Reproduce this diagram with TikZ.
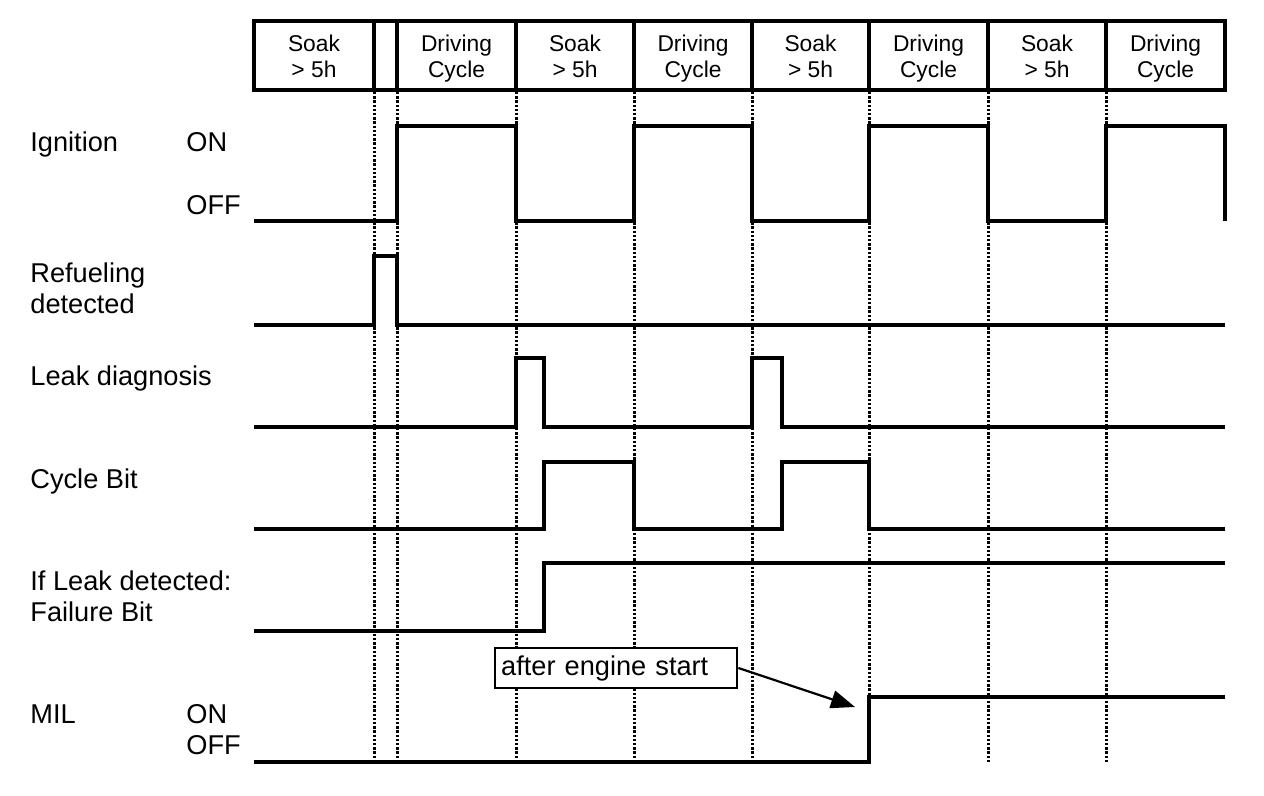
\documentclass[tikz,border=0pt]{standalone}
\usepackage{fontspec}
\setmainfont{Liberation Sans}
\usepackage{tikz}
\usetikzlibrary{arrows.meta, positioning}

\begin{document}
\begin{tikzpicture}[
  x=0.5pt, y=-0.5pt,
  hdr/.style={font=\fontsize{11.4}{13}\selectfont, align=center, inner sep=0pt, anchor=north},
  lbl/.style={font=\fontsize{13.6}{15.5}\selectfont, anchor=base west, inner sep=0pt},
  sig/.style={line width=1.6pt, line join=miter},
  grid/.style={line width=1.5pt, dash pattern=on 1.2pt off 0.9pt},
  box/.style={draw, line width=1.6pt},
  note/.style={draw, line width=1.2pt, font=\fontsize{13.6}{15.5}\selectfont, inner xsep=3pt, text width=115pt, align=left, minimum height=20pt},
  arr/.style={-{Triangle[length=12pt, width=9pt]}, line width=1.1pt},
]
\useasboundingbox (0,0) rectangle (1264,796);

%% Phase header
\draw[box] (254,21) rectangle (1225,90);
\foreach \x in {374,397,516,634,752,869,988,1106} {
  \draw[box] (\x,21) -- (\x,90);
}
\node[hdr] (h1) at (314,35)    {Soak\\> 5h};
\node[hdr] (h2) at (456.5,35)  {Driving\\Cycle};
\node[hdr] (h3) at (575,35)    {Soak\\> 5h};
\node[hdr] (h4) at (693,35)    {Driving\\Cycle};
\node[hdr] (h5) at (810.5,35)  {Soak\\> 5h};
\node[hdr] (h6) at (928.5,35)  {Driving\\Cycle};
\node[hdr] (h7) at (1047,35)   {Soak\\> 5h};
\node[hdr] (h8) at (1165.5,35) {Driving\\Cycle};

%% Phase boundaries
\foreach \x in {374,397,516,634,752,869,988,1106} {
  \draw[grid] (\x,92) -- (\x,762);
}

%% Signal names
\node[lbl] (ign)    at (30,152)  {Ignition};
\node[lbl] (ignon)  at (186,152) {ON};
\node[lbl] (ignoff) at (186,215) {OFF};
\node[lbl] (refuel) at (30,283)  {Refueling};
\node[lbl] (refuel2) at (30,314) {detected};
\node[lbl] (leak)   at (30,386)  {Leak diagnosis};
\node[lbl] (cycle)  at (30,488)  {Cycle Bit};
\node[lbl] (fail)   at (30,590)  {If Leak detected:};
\node[lbl] (fail2)  at (30,621)  {Failure Bit};
\node[lbl] (mil)    at (30,723)  {MIL};
\node[lbl] (milon)  at (186,723) {ON};
\node[lbl] (miloff) at (186,754) {OFF};

%% Waveforms
\draw[sig] (254,221) -- (397,221) -- (397,126) -- (516,126) -- (516,221) -- (634,221)
  -- (634,126) -- (752,126) -- (752,221) -- (869,221) -- (869,126) -- (988,126)
  -- (988,221) -- (1106,221) -- (1106,126) -- (1225,126) -- (1225,221);
\draw[sig] (254,325) -- (374,325) -- (374,256) -- (397,256) -- (397,325) -- (1225,325);
\draw[sig] (254,427) -- (516,427) -- (516,358) -- (544,358) -- (544,427) -- (752,427)
  -- (752,358) -- (782,358) -- (782,427) -- (1225,427);
\draw[sig] (254,529) -- (544,529) -- (544,462) -- (634,462) -- (634,529) -- (782,529)
  -- (782,462) -- (869,462) -- (869,529) -- (1225,529);
\draw[sig] (254,631) -- (544,631) -- (544,563) -- (1225,563);
\draw[sig] (254,762) -- (869,762) -- (869,697) -- (1225,697);

%% Callout
\node[note, anchor=west, fill=white] (start) at (494,668) {after engine start};
\coordinate (milup) at (855,707);
\draw[arr] (start.east) -- (milup);
\end{tikzpicture}
\end{document}
